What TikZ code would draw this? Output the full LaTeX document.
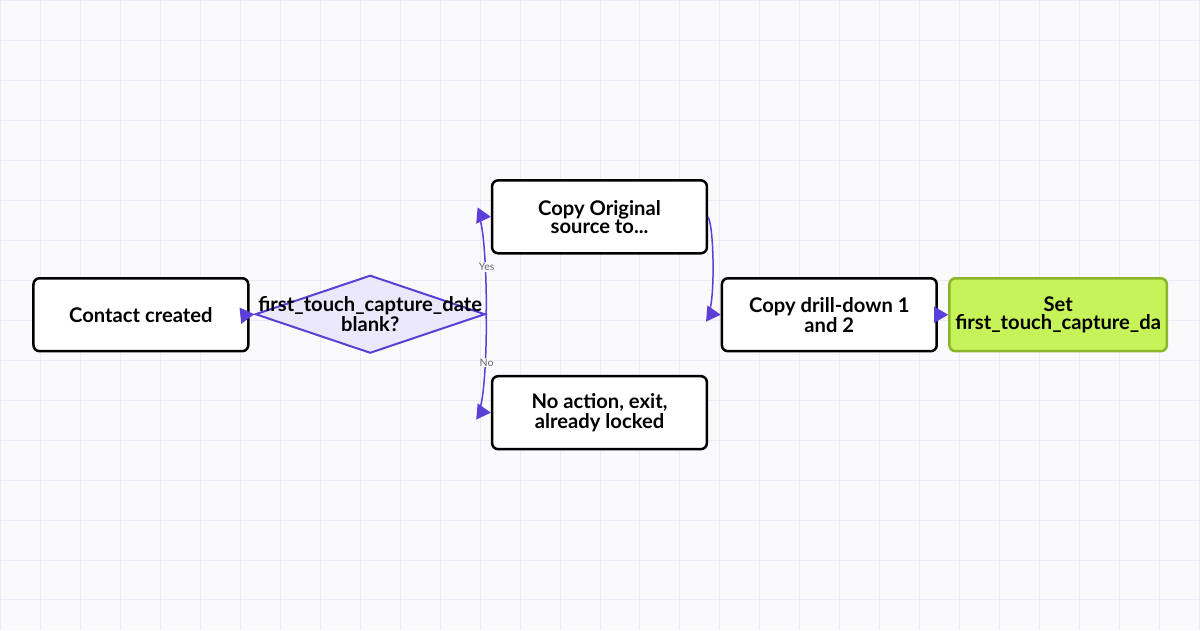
\documentclass[tikz,border=0pt]{standalone}
\usepackage{fontspec}
\setmainfont{Lato}
\usetikzlibrary{shapes.geometric}
\usetikzlibrary{arrows.meta}
\definecolor{edge}{HTML}{5B3FD6}
\definecolor{dfill}{HTML}{ECE8FB}
\definecolor{lime}{HTML}{C6F25A}
\definecolor{limeline}{HTML}{8DB52C}
\definecolor{grid}{HTML}{ECEAF6}
\definecolor{bg}{HTML}{FAFAFD}
\definecolor{lbl}{HTML}{6B6B6B}

\begin{document}
\begin{tikzpicture}[
	x=0.02cm,
	y=-0.02cm,
	box/.style={
		draw,
		line width=0.5mm,
		rounded corners=1.2mm,
		fill=white,
		minimum width=4.3cm,
		minimum height=1.46cm,
		align=center,
		font=\fontsize{11.5}{10}\selectfont\bfseries,
	},
	link/.style={
		draw=edge,
		line width=0.3mm,
		-{Triangle[length=2.8mm,width=3.2mm]},
	},
	tag/.style={
		font=\fontsize{6}{6}\selectfont,
		text=lbl,
		fill=bg,
		inner sep=0.5pt,
	},
]
% background
\fill[bg] (0,0) rectangle (1200,630);
\foreach \i in {0,40,...,1200} {
	\draw[grid, line width=0.2mm] (\i,0) -- (\i,630);
}
\foreach \j in {0,40,...,630} {
	\draw[grid, line width=0.2mm] (0,\j) -- (1200,\j);
}
\useasboundingbox (0,0) rectangle (1200,630);

% nodes
\node[box] (contact) at (140.5,314.5) {Contact created};
\node[
	diamond,
	draw=edge,
	fill=dfill,
	line width=0.4mm,
	aspect=2.95,
	minimum width=4.6cm,
	minimum height=1.56cm,
	inner sep=0pt,
] (check) at (370,314) {};
\node[align=center, font=\fontsize{11.5}{10}\selectfont\bfseries] (checktext) at (370,314) {first\_touch\_capture\_date\\blank?};
\node[box] (copyorig) at (599.5,216.5) {Copy Original\\source to...};
\node[box] (noaction) at (599.5,412.5) {No action, exit,\\already locked};
\node[box] (drill) at (829.5,314.5) {Copy drill-down 1\\and 2};
\node[box, fill=lime, draw=limeline] (setdate) at (1058.5,314.5) {Set\\first\_touch\_capture\_da};

% connectors
\draw[link] (contact.east) -- (check.west);
\draw[link] (check.east) .. controls (487,300) and (485,216) .. node[tag, pos=0.45] {Yes} (copyorig.west);
\draw[link] (check.east) .. controls (487,330) and (485,412) .. node[tag, pos=0.45] {No} (noaction.west);
\draw[link] (copyorig.east) .. controls (715,230) and (715,314) .. (drill.west);
\draw[link] (drill.east) -- (setdate.west);
\end{tikzpicture}
\end{document}
